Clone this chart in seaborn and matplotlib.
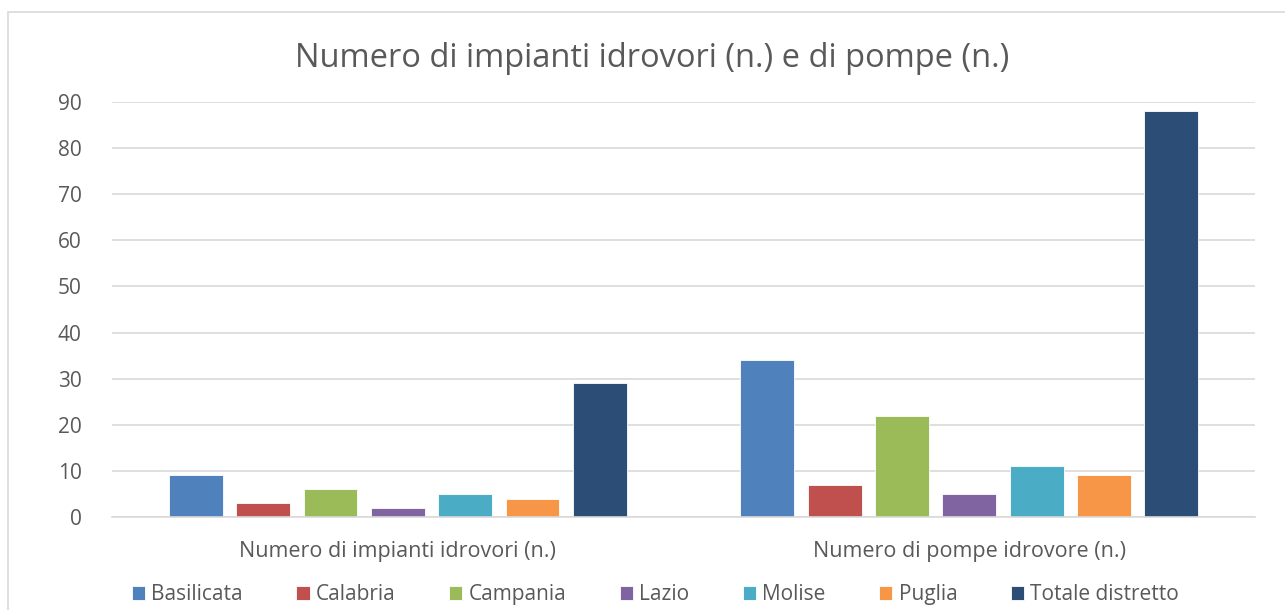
import matplotlib.pyplot as plt
import seaborn as sns
import pandas as pd
from matplotlib.patches import Rectangle

# Data
groups = ["Numero di impianti idrovori (n.)", "Numero di pompe idrovore (n.)"]
regions = ["Basilicata", "Calabria", "Campania", "Lazio", "Molise", "Puglia", "Totale distretto"]
impianti = [9, 3, 6, 2, 5, 4, 29]
pompe = [34, 7, 22, 5, 11, 9, 88]
colors = ["#4F81BD", "#C0504D", "#9BBB59", "#8064A2", "#4BACC6", "#F79646", "#2C4D75"]

df = pd.DataFrame({
    "gruppo": [groups[0]] * len(regions) + [groups[1]] * len(regions),
    "regione": regions + regions,
    "valore": impianti + pompe,
})

sns.set_style("white")
plt.rcParams["font.family"] = ["Open Sans", "DejaVu Sans"]
text_col = "#595959"

fig = plt.figure(figsize=(12.85, 6.1), dpi=100)
ax = fig.add_axes([0.0872, 0.1525, 0.8895, 0.6803])

sns.barplot(data=df, x="gruppo", y="valore", hue="regione", order=groups,
            hue_order=regions, palette=colors, saturation=1, width=0.825, gap=0.2,
            edgecolor="white", linewidth=0.6, ax=ax, legend=True)

ax.set_ylim(0, 90)
ax.set_yticks(range(0, 91, 10))
ax.yaxis.grid(True, color="#D9D9D9", linewidth=1.2)
ax.set_axisbelow(True)
for s in ["top", "right", "left"]:
    ax.spines[s].set_visible(False)
ax.spines["bottom"].set_color("#D9D9D9")
ax.spines["bottom"].set_linewidth(1.2)
ax.tick_params(axis="y", length=0, labelsize=15, colors=text_col, pad=22)
ax.tick_params(axis="x", length=0, labelsize=15.5, colors=text_col, pad=17)
ax.set_xlabel("")
ax.set_ylabel("")

ax.set_title("Numero di impianti idrovori (n.) e di pompe (n.)", fontsize=23.5,
             color=text_col, pad=25, x=0.4725)

handles, labels = ax.get_legend_handles_labels()
ax.get_legend().remove()
fig.legend(handles, labels, loc="lower center", bbox_to_anchor=(0.51, -0.023),
           ncol=7, frameon=False, fontsize=15, handlelength=0.65,
           handleheight=0.65, handletextpad=0.3, columnspacing=2.55,
           labelcolor=text_col)

fig.patches.append(Rectangle((0.0065, -0.01), 1.2, 0.99, transform=fig.transFigure,
                             fill=False, edgecolor="#D9D9D9", linewidth=1.2))

fig.savefig("out.png", dpi=100)
